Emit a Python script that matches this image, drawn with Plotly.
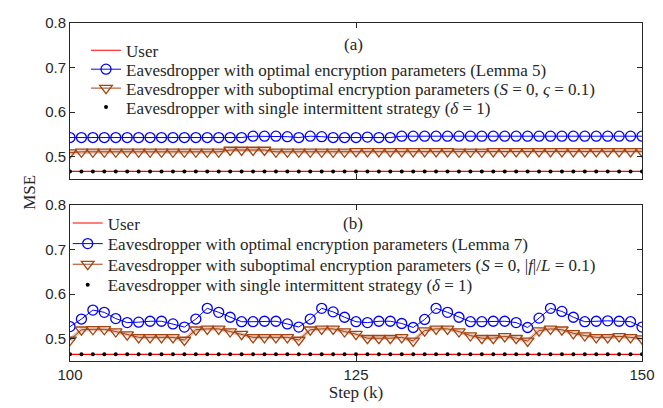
import plotly.graph_objects as go

steps = list(range(100, 151))

# panel (a)
user_a = [0.467, 0.467, 0.467, 0.467, 0.467, 0.467, 0.467, 0.467, 0.467, 0.467,
          0.467, 0.467, 0.467, 0.467, 0.467, 0.467, 0.467, 0.467, 0.467, 0.467,
          0.467, 0.467, 0.467, 0.467, 0.467, 0.467, 0.467, 0.467, 0.467, 0.467,
          0.467, 0.467, 0.467, 0.467, 0.467, 0.467, 0.467, 0.467, 0.467, 0.467,
          0.467, 0.467, 0.467, 0.467, 0.467, 0.467, 0.467, 0.467, 0.467, 0.467, 0.467]
optimal_a = [0.543, 0.543, 0.543, 0.543, 0.543, 0.543, 0.543, 0.543, 0.543, 0.543,
             0.543, 0.543, 0.543, 0.543, 0.543, 0.543, 0.546, 0.546, 0.546, 0.545,
             0.543, 0.546, 0.545, 0.543, 0.543, 0.543, 0.544, 0.543, 0.543, 0.546,
             0.546, 0.546, 0.546, 0.546, 0.546, 0.546, 0.546, 0.546, 0.546, 0.546,
             0.546, 0.546, 0.546, 0.546, 0.546, 0.546, 0.546, 0.546, 0.546, 0.546, 0.546]
subopt_a = [0.509, 0.511, 0.511, 0.511, 0.511, 0.511, 0.511, 0.511, 0.511, 0.511,
            0.511, 0.511, 0.511, 0.511, 0.515, 0.515, 0.515, 0.515, 0.511, 0.511,
            0.511, 0.511, 0.511, 0.511, 0.511, 0.512, 0.512, 0.512, 0.512, 0.512,
            0.512, 0.512, 0.512, 0.512, 0.511, 0.511, 0.511, 0.512, 0.512, 0.512,
            0.512, 0.512, 0.512, 0.512, 0.512, 0.512, 0.512, 0.512, 0.512, 0.512, 0.512]
single_a = user_a

# panel (b)
user_b = [0.465, 0.465, 0.465, 0.465, 0.465, 0.465, 0.465, 0.465, 0.465, 0.465,
          0.465, 0.465, 0.465, 0.465, 0.465, 0.465, 0.465, 0.465, 0.465, 0.465,
          0.465, 0.465, 0.465, 0.465, 0.465, 0.465, 0.465, 0.465, 0.465, 0.465,
          0.465, 0.465, 0.465, 0.465, 0.465, 0.465, 0.465, 0.465, 0.465, 0.465,
          0.465, 0.465, 0.465, 0.465, 0.465, 0.465, 0.465, 0.465, 0.465, 0.465, 0.465]
optimal_b = [0.527, 0.544, 0.564, 0.559, 0.545, 0.536, 0.537, 0.539, 0.539, 0.533,
             0.526, 0.544, 0.568, 0.559, 0.548, 0.538, 0.538, 0.539, 0.539, 0.533,
             0.526, 0.544, 0.568, 0.560, 0.548, 0.538, 0.536, 0.539, 0.539, 0.534,
             0.525, 0.543, 0.568, 0.559, 0.548, 0.538, 0.538, 0.539, 0.539, 0.536,
             0.525, 0.546, 0.568, 0.561, 0.548, 0.538, 0.539, 0.540, 0.539, 0.538, 0.526]
subopt_b = [0.497, 0.520, 0.521, 0.521, 0.516, 0.509, 0.503, 0.503, 0.503, 0.503,
            0.497, 0.520, 0.522, 0.522, 0.516, 0.510, 0.503, 0.503, 0.503, 0.503,
            0.497, 0.520, 0.522, 0.522, 0.516, 0.510, 0.501, 0.501, 0.501, 0.503,
            0.495, 0.518, 0.522, 0.522, 0.516, 0.507, 0.501, 0.501, 0.505, 0.501,
            0.495, 0.518, 0.522, 0.520, 0.512, 0.507, 0.503, 0.503, 0.505, 0.503, 0.500]
single_b = user_b

names_a = [
    "User",
    "Eavesdropper with optimal encryption parameters (Lemma 5)",
    "Eavesdropper with suboptimal encryption parameters (<i>S</i> = 0, <i>ς</i> = 0.1)",
    "Eavesdropper with single intermittent strategy (<i>δ</i> = 1)",
]
names_b = [
    "User",
    "Eavesdropper with optimal encryption parameters (Lemma 7)",
    "Eavesdropper with suboptimal encryption parameters (<i>S</i> = 0, |<i>f</i>|/<i>L</i> = 0.1)",
    "Eavesdropper with single intermittent strategy (<i>δ</i> = 1)",
]

RED = "#ff0000"
BLUE = "#0000ff"
BROWN = "#a5420f"
INK = "#262626"
SERIF = "Liberation Serif, Times New Roman, serif"
SANS = "Liberation Sans, Arial, sans-serif"


def add_panel(fig, xa, ya, legends, names, user, opt, sub, single):
    fig.add_trace(go.Scatter(x=steps, y=user, mode="lines", name=names[0],
                             line=dict(color=RED, width=1.2),
                             xaxis=xa, yaxis=ya, legend=legends[0]))
    fig.add_trace(go.Scatter(x=steps, y=opt, mode="lines+markers", name=names[1],
                             line=dict(color=BLUE, width=1),
                             marker=dict(symbol="circle-open", size=10,
                                         color=BLUE, line=dict(width=1.3)),
                             xaxis=xa, yaxis=ya, legend=legends[1]))
    # light band behind the brown line
    fig.add_trace(go.Scatter(x=steps, y=sub, mode="lines", showlegend=False,
                             line=dict(color="rgba(165,66,15,0.3)", width=4),
                             hoverinfo="skip", xaxis=xa, yaxis=ya))
    fig.add_trace(go.Scatter(x=steps, y=sub, mode="lines+markers", name=names[2],
                             line=dict(color=BROWN, width=1),
                             marker=dict(symbol="triangle-down-open", size=11,
                                         color=BROWN, line=dict(width=1.3)),
                             xaxis=xa, yaxis=ya, legend=legends[2]))
    fig.add_trace(go.Scatter(x=steps, y=single, mode="markers", name=names[3],
                             marker=dict(symbol="circle", size=4, color="black"),
                             xaxis=xa, yaxis=ya, legend=legends[3]))


fig = go.Figure()
add_panel(fig, "x", "y", ["legend", "legend2", "legend3", "legend4"],
          names_a, user_a, optimal_a, subopt_a, single_a)
add_panel(fig, "x2", "y2", ["legend5", "legend6", "legend7", "legend8"],
          names_b, user_b, optimal_b, subopt_b, single_b)

axis_style = dict(showline=True, mirror="ticks", linecolor=INK, linewidth=1,
                  ticks="inside", ticklen=5, tickcolor=INK, showgrid=False,
                  zeroline=False, tickfont=dict(family=SANS, size=15, color=INK))


def legend_at(x, y):
    # one legend per entry so the rows can sit as tightly as in the original
    return dict(x=x, y=y, xanchor="left", yanchor="middle",
                font=dict(family=SERIF, size=17, color=INK),
                bgcolor="rgba(255,255,255,0)", borderwidth=0, itemwidth=30)


fig.update_layout(
    width=663, height=408,
    margin=dict(l=62, r=29, t=15, b=55, autoexpand=False),
    paper_bgcolor="white", plot_bgcolor="white",
    showlegend=True,
    xaxis=dict(domain=[0, 1], range=[100, 150], tickvals=[100, 125, 150],
               showticklabels=False, anchor="y", **axis_style),
    yaxis=dict(domain=[0.5385, 1], range=[0.45, 0.8], tickvals=[0.5, 0.6, 0.7, 0.8],
               tickformat=".1f", anchor="x", **axis_style),
    xaxis2=dict(domain=[0, 1], range=[100, 150], tickvals=[100, 125, 150],
                anchor="y2", **axis_style,
                title=dict(text="Step (k)", standoff=2,
                           font=dict(family=SERIF, size=17, color=INK))),
    yaxis2=dict(domain=[0, 0.4624], range=[0.45, 0.8], tickvals=[0.5, 0.6, 0.7, 0.8],
                tickformat=".1f", anchor="x2", **axis_style),
    legend=legend_at(0.028, 0.918),
    legend2=legend_at(0.028, 0.862),
    legend3=legend_at(0.028, 0.806),
    legend4=legend_at(0.028, 0.750),
    legend5=legend_at(-0.004, 0.407),
    legend6=legend_at(-0.004, 0.346),
    legend7=legend_at(-0.004, 0.285),
    legend8=legend_at(-0.004, 0.224),
)

fig.add_annotation(text="MSE", x=-0.072, y=0.5, xref="paper", yref="paper",
                   xanchor="center", yanchor="middle", textangle=-90, showarrow=False,
                   font=dict(family=SERIF, size=17, color=INK))
fig.add_annotation(text="(a)", x=0.495, y=0.937, xref="paper", yref="paper",
                   xanchor="center", yanchor="middle", showarrow=False,
                   font=dict(family=SERIF, size=17, color=INK))
fig.add_annotation(text="(b)", x=0.495, y=0.407, xref="paper", yref="paper",
                   xanchor="center", yanchor="middle", showarrow=False,
                   font=dict(family=SERIF, size=17, color=INK))

fig.write_html("out.html")
